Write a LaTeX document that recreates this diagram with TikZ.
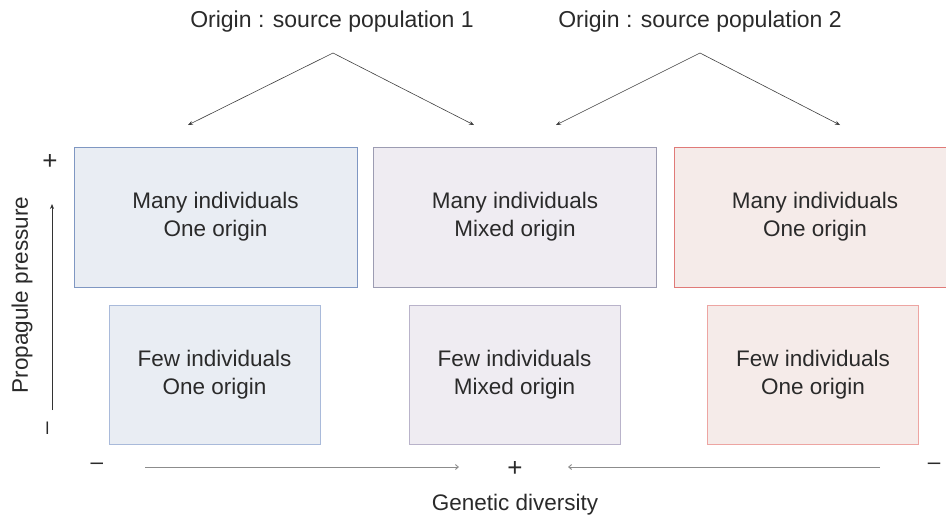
\documentclass[tikz,border=0pt]{standalone}
\usepackage{fontspec}
\setmainfont{Liberation Sans}
\usetikzlibrary{arrows.meta}
\definecolor{fillB}{HTML}{E9EDF3}
\definecolor{fillM}{HTML}{EFECF2}
\definecolor{fillR}{HTML}{F5EBE9}
\definecolor{lineB}{HTML}{7F97C2}
\definecolor{lineM}{HTML}{9C9CB2}
\definecolor{lineR}{HTML}{E07A78}
\definecolor{lineBl}{HTML}{A9BADA}
\definecolor{lineMl}{HTML}{B9B3CA}
\definecolor{lineRl}{HTML}{EDA5A2}
\definecolor{txt}{HTML}{2A2A2A}
\tikzset{
  bigbox/.style={draw, line width=0.8pt, minimum width=283pt, minimum height=140pt, inner sep=0pt, align=center, font=\fontsize{22.5}{28}\selectfont, text=txt},
  smallbox/.style={draw, line width=0.8pt, minimum width=211pt, minimum height=139pt, inner sep=0pt, align=center, font=\fontsize{22.5}{28}\selectfont, text=txt},
  lbl/.style={font=\fontsize{22.5}{27}\selectfont, text=txt, inner sep=0pt},
  sign/.style={font=\fontsize{26}{28}\selectfont, text=txt, inner sep=0pt},
  arr/.style={draw=black!75, line width=0.6pt, -{Stealth[length=5pt,width=4pt]}},
  axarr/.style={draw=black!45, line width=0.9pt, -{Straight Barb[length=3pt,width=5pt]}}
}
\begin{document}
\begin{tikzpicture}[x=1pt,y=-1pt]
\useasboundingbox (0,0) rectangle (946,520);
% top boxes
\node[bigbox, fill=fillB, draw=lineB] (b1) at (215.5,217) {Many individuals\\One origin};
\node[bigbox, fill=fillM, draw=lineM] (b2) at (515,217) {Many individuals\\Mixed origin};
\node[bigbox, fill=fillR, draw=lineR, minimum width=276pt] (b3) at (812,217) {};
\node[lbl, align=center, font=\fontsize{22.5}{28}\selectfont] (b3t) at (815,217) {Many individuals\\One origin};
% bottom boxes
\node[smallbox, fill=fillB, draw=lineBl] (s1) at (214.5,374.5) {Few individuals\\One origin};
\node[smallbox, fill=fillM, draw=lineMl] (s2) at (514.5,374.5) {Few individuals\\Mixed origin};
\node[smallbox, fill=fillR, draw=lineRl] (s3) at (813,374.5) {Few individuals\\One origin};
% top labels
\node[lbl, font=\fontsize{23}{27}\selectfont] (o1) at (332,22) {Origin : source population 1};
\node[lbl, font=\fontsize{23}{27}\selectfont] (o2) at (700,22) {Origin : source population 2};
\coordinate (a1) at (333,53);
\coordinate (a2) at (700,53);
\coordinate (e1) at (188,125);
\coordinate (e2) at (474,125);
\coordinate (e3) at (556,125);
\coordinate (e4) at (840,125);
\draw[arr] (a1) -- (e1);
\draw[arr] (a1) -- (e2);
\draw[arr] (a2) -- (e3);
\draw[arr] (a2) -- (e4);
% left axis
\node[sign] (pp) at (50,162) {+};
\node[lbl] (pm) at (50,428) {\rotatebox{90}{--}};
\node[lbl, rotate=90] (ptxt) at (22,295) {Propagule pressure};
\coordinate (yb) at (52,410);
\coordinate (yt) at (52,204);
\draw[draw=black!80, line width=0.7pt, -{Stealth[length=5pt,width=4pt]}] (yb) -- (yt);
% bottom axis
\node[lbl] (gm1) at (97,466) {--};
\node[sign] (gp) at (515,469) {+};
\node[lbl] (gm2) at (934,466) {--};
\node[lbl] (gd) at (515,505) {Genetic diversity};
\coordinate (xl1) at (145,467);
\coordinate (xr1) at (459,467);
\coordinate (xl2) at (880,467);
\coordinate (xr2) at (568,467);
\draw[axarr] (xl1) -- (xr1);
\draw[axarr] (xl2) -- (xr2);
\end{tikzpicture}
\end{document}
